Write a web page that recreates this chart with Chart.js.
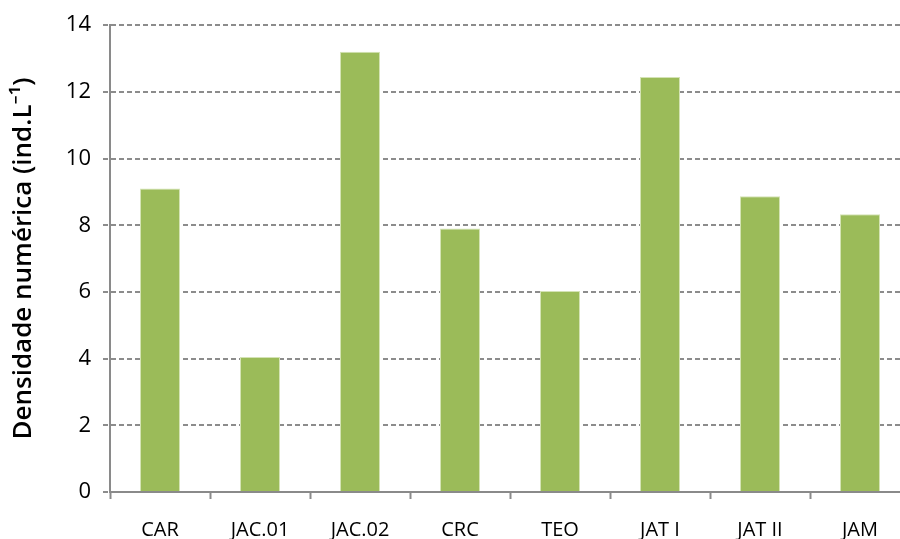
<!DOCTYPE html>
<html>
<head>
<meta charset="utf-8">
<script src="https://cdn.jsdelivr.net/npm/chart.js@4/dist/chart.umd.min.js"></script>
<style>
html,body{margin:0;padding:0;background:#fff;overflow:hidden;}
#wrap{width:900px;height:539px;overflow:hidden;position:relative;}
#box{width:922px;height:539px;position:absolute;left:0;top:0;}
</style>
</head>
<body>
<div id="wrap"><div id="box"><canvas id="c"></canvas></div></div>
<script>
const categories = ["CAR", "JAC.01", "JAC.02", "CRC", "TEO", "JAT I", "JAT II", "JAM"];
const densidade = [9.1, 4.05, 13.2, 7.9, 6.03, 12.45, 8.87, 8.33];
const yTicks = [0, 2, 4, 6, 8, 10, 12, 14];
const yTitle = "Densidade numérica (ind.L⁻¹)";

const FONT = "'Open Sans', 'Noto Sans', sans-serif";

new Chart(document.getElementById('c'), {
  type: 'bar',
  data: {
    labels: categories,
    datasets: [{
      data: densidade,
      backgroundColor: '#9BBB59',
      borderColor: '#D4E3B5',
      borderWidth: 1,
      barPercentage: 0.5,
      categoryPercentage: 0.8
    }]
  },
  options: {
    responsive: true,
    maintainAspectRatio: false,
    animation: false,
    layout: { padding: { top: 14, right: 12, left: 8, bottom: 0 } },
    plugins: { legend: { display: false }, tooltip: { enabled: false } },
    scales: {
      x: {
        offset: true,
        afterFit: (axis) => { axis.height = 47; },
        grid: {
          offset: true,
          drawOnChartArea: false,
          drawTicks: true,
          tickLength: 7,
          tickWidth: 2,
          tickColor: '#8a8a8a'
        },
        border: { display: true, color: '#8a8a8a', width: 2 },
        ticks: {
          color: '#000',
          font: { family: FONT, size: 20 },
          padding: 19,
          maxRotation: 0
        }
      },
      y: {
        min: 0,
        max: 14,
        afterFit: (axis) => { axis.width = 102; },
        afterBuildTicks: (axis) => { axis.ticks = yTicks.map(v => ({ value: v })); },
        grid: {
          color: '#8c8c8c',
          lineWidth: 2,
          tickLength: 7,
          tickColor: '#8c8c8c',
          tickBorderDash: [5, 3],
          drawTicks: true
        },
        border: { display: true, color: '#8a8a8a', width: 2, dash: [5, 3] },
        ticks: {
          color: '#000',
          font: { family: FONT, size: 22 },
          padding: 12
        },
        title: {
          display: true,
          text: yTitle,
          color: '#000',
          font: { family: FONT, size: 26, weight: '600' },
          padding: { top: 0, bottom: 10 }
        }
      }
    }
  }
});
</script>
</body>
</html>
